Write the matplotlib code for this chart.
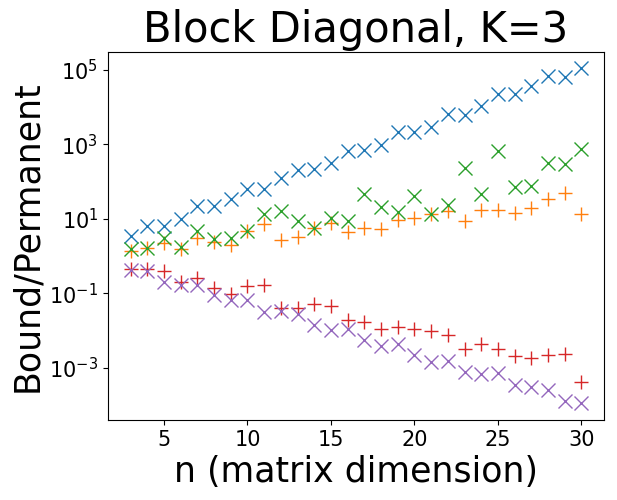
import numpy as np
import matplotlib
matplotlib.use('Agg')
import matplotlib.pyplot as plt

n = np.arange(3, 31)

blue = [3.5, 6.5, 6.6, 10, 22, 22, 35, 65, 62, 123, 209, 219, 316, 676,
        724, 977, 2190, 2190, 3020, 6610, 6170, 11000, 22900, 22900, 37200,
        69200, 66100, 112000]
orange = [1.35, 1.66, 2.29, 1.58, 3.09, 2.34, 2.04, 4.68, 7.08, 2.63, 3.24,
          5.75, 7.76, 4.47, 5.75, 5.37, 9.12, 10.5, 13.8, 15.8, 8.51, 17.8,
          17.8, 14.5, 19.5, 34.7, 50.1, 13.5]
green = [1.51, 1.66, 3.09, 1.74, 4.68, 2.88, 3.09, 4.68, 13.5, 15.8, 8.51,
         5.75, 10.5, 8.51, 47.9, 20.9, 15.1, 40.7, 13.8, 22.9, 234, 47.9,
         676, 70.8, 75.9, 316, 295, 759]
red = [0.436, 0.436, 0.389, 0.195, 0.263, 0.141, 0.0933, 0.158, 0.166,
       0.0407, 0.0407, 0.0501, 0.0447, 0.0186, 0.0170, 0.0112, 0.0120,
       0.0107, 0.00977, 0.00759, 0.00309, 0.00427, 0.00309, 0.00200,
       0.00186, 0.00214, 0.00229, 0.000417]
purple = [0.417, 0.389, 0.204, 0.166, 0.166, 0.0871, 0.0676, 0.0646, 0.0309,
          0.0331, 0.0269, 0.0138, 0.0102, 0.0107, 0.00550, 0.00380, 0.00427,
          0.00214, 0.00141, 0.00151, 0.000741, 0.000676, 0.000708, 0.000347,
          0.000295, 0.000251, 0.000123, 0.000110]

fig = plt.figure(figsize=(6.17, 5), dpi=100)
ax = fig.add_axes([0.175, 0.16, 0.804, 0.737])

ms = 10
ax.plot(n, blue, 'x', color='C0', ms=ms)
ax.plot(n, orange, '+', color='C1', ms=ms)
ax.plot(n, green, 'x', color='C2', ms=ms)
ax.plot(n, red, '+', color='C3', ms=ms)
ax.plot(n, purple, 'x', color='C4', ms=ms)

ax.set_yscale('log')
ax.set_yticks([1e-3, 1e-1, 1e1, 1e3, 1e5])
ax.minorticks_off()
ax.tick_params(labelsize=15)
ax.set_title('Block Diagonal, K=3', fontsize=30)
ax.set_xlabel('n (matrix dimension)', fontsize=25)
ax.set_ylabel('Bound/Permanent', fontsize=25)

fig.savefig('out.png', dpi=100)
